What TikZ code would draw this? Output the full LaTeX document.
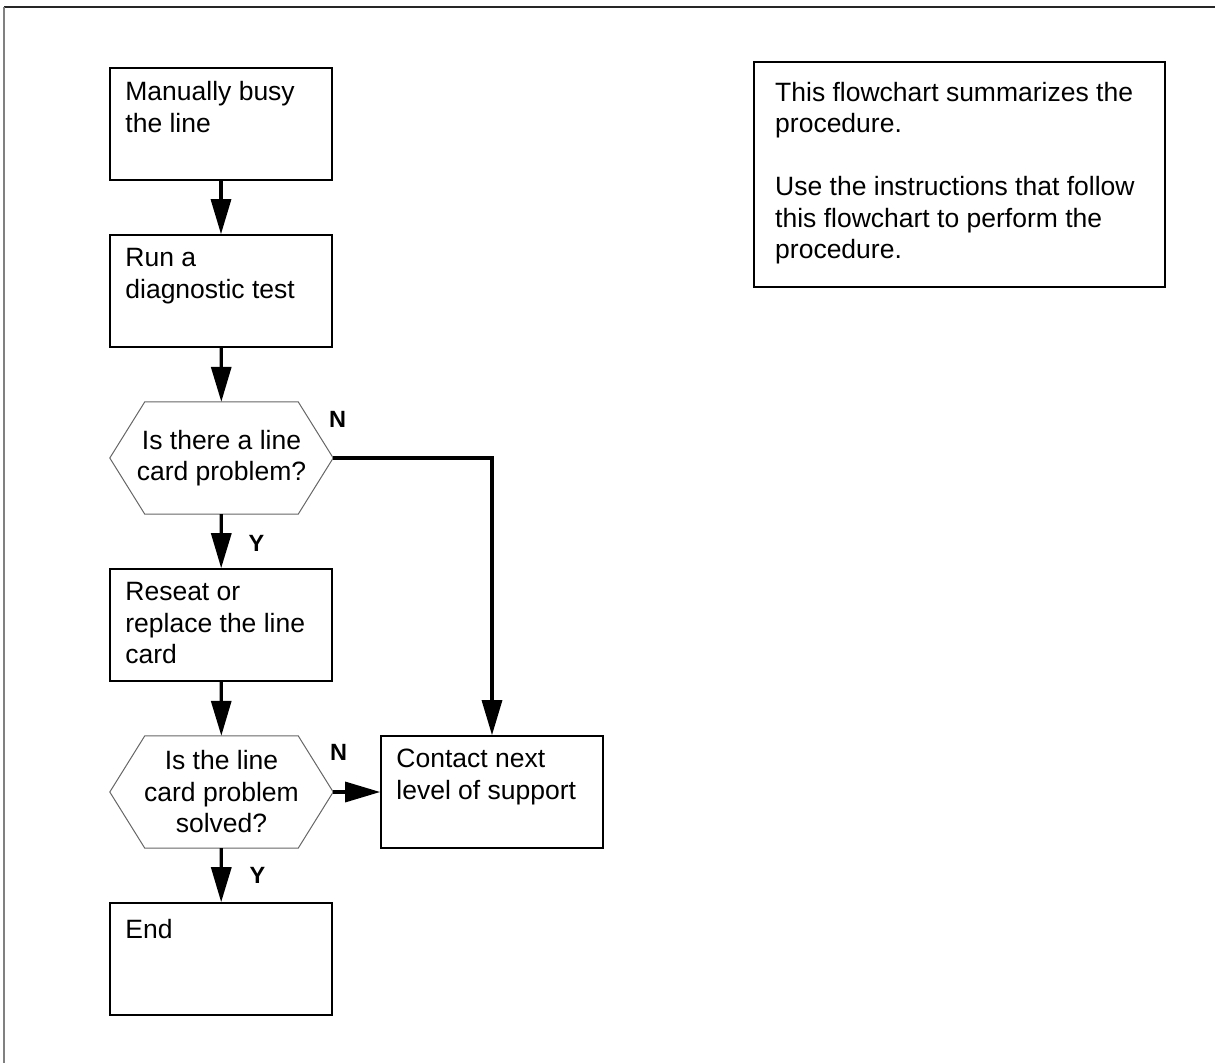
\documentclass[tikz,border=0pt]{standalone}
\usepackage{fontspec}
\setmainfont{Liberation Sans}
\usetikzlibrary{arrows.meta}

\newcommand\boxfont{\fontsize{26.5}{31.5}\selectfont}
\newcommand\tagfont{\fontsize{23.5}{28}\selectfont\bfseries}

\begin{document}
\begin{tikzpicture}[x=1pt,y=-1pt,
  stepbox/.style={draw=black, line width=1.6pt, minimum width=222pt,
                  minimum height=112pt, inner sep=0pt},
  decision/.style={minimum width=223pt, minimum height=112pt, inner sep=0pt,
                   align=center, font=\boxfont},
  hexline/.style={draw=black!60, line width=1pt, line join=miter},
  boxtext/.style={anchor=north west, inner sep=0pt, align=left, font=\boxfont,
                  execute at begin node=\strut},
  flow/.style={line width=3.2pt, -{Triangle[length=35pt,width=20pt]}},
  tag/.style={inner sep=0pt, font=\tagfont},
]
\useasboundingbox (0,0) rectangle (1215,1063);

% page frame (top and left edges)
\draw[black!85, line width=1.5pt] (4,7) -- (1215,7);
\draw[black!50, line width=1.2pt] (4,7) -- (4,1063);

% process boxes
\node[stepbox] (b1) at (221,124) {};
\node[boxtext] (b1t) at ([shift={(16,14)}]b1.north west) {Manually busy\\the line};

\node[stepbox] (b2) at (221,291) {};
\node[boxtext] (b2t) at ([shift={(16,14)}]b2.north west) {Run a\\diagnostic test};

\node[stepbox] (b3) at (221,625) {};
\node[boxtext] (b3t) at ([shift={(16,14)}]b3.north west) {Reseat or\\replace the line\\card};

\node[stepbox] (b4) at (221,959) {};
\node[boxtext] (b4t) at ([shift={(16,14)}]b4.north west) {End};

\node[stepbox] (ct) at (492,792) {};
\node[boxtext] (ctt) at ([shift={(16,14)}]ct.north west) {Contact next\\level of support};

% decisions (hexagons)
\node[decision] (h1) at (221.5,458) {Is there a line\\card problem?};
\draw[hexline] (h1.west) -- ([xshift=35pt]h1.north west) -- ([xshift=-35pt]h1.north east)
  -- (h1.east) -- ([xshift=-35pt]h1.south east) -- ([xshift=35pt]h1.south west) -- cycle;

\node[decision] (h2) at (221.5,792) {Is the line\\card problem\\solved?};
\draw[hexline] (h2.west) -- ([xshift=35pt]h2.north west) -- ([xshift=-35pt]h2.north east)
  -- (h2.east) -- ([xshift=-35pt]h2.south east) -- ([xshift=35pt]h2.south west) -- cycle;

% branch labels
\node[tag] (n1) at ([shift={(116,-39)}]h1.center) {N};
\node[tag] (y1) at ([shift={(35,85)}]h1.center) {Y};
\node[tag] (n2) at ([shift={(117,-40)}]h2.center) {N};
\node[tag] (y2) at ([shift={(36,83)}]h2.center) {Y};

% connectors
\draw[flow] (b1) -- (b2);
\draw[flow] (b2) -- (h1);
\draw[flow] (h1) -- (b3);
\draw[flow] (b3) -- (h2);
\draw[flow] (h2) -- (b4);
\draw[flow] (h2) -- (ct);
\draw[flow] (h1.east) -| (ct.north);

% note box
\node[draw=black, line width=2pt, minimum width=411pt, minimum height=225pt,
      inner sep=0pt] (note) at (959.5,174.5) {};
\node[boxtext] (notet) at ([shift={(22,21)}]note.north west)
  {This flowchart summarizes the\\procedure.\\[31.5pt]Use the instructions that follow\\this flowchart to perform the\\procedure.};
\end{tikzpicture}
\end{document}
